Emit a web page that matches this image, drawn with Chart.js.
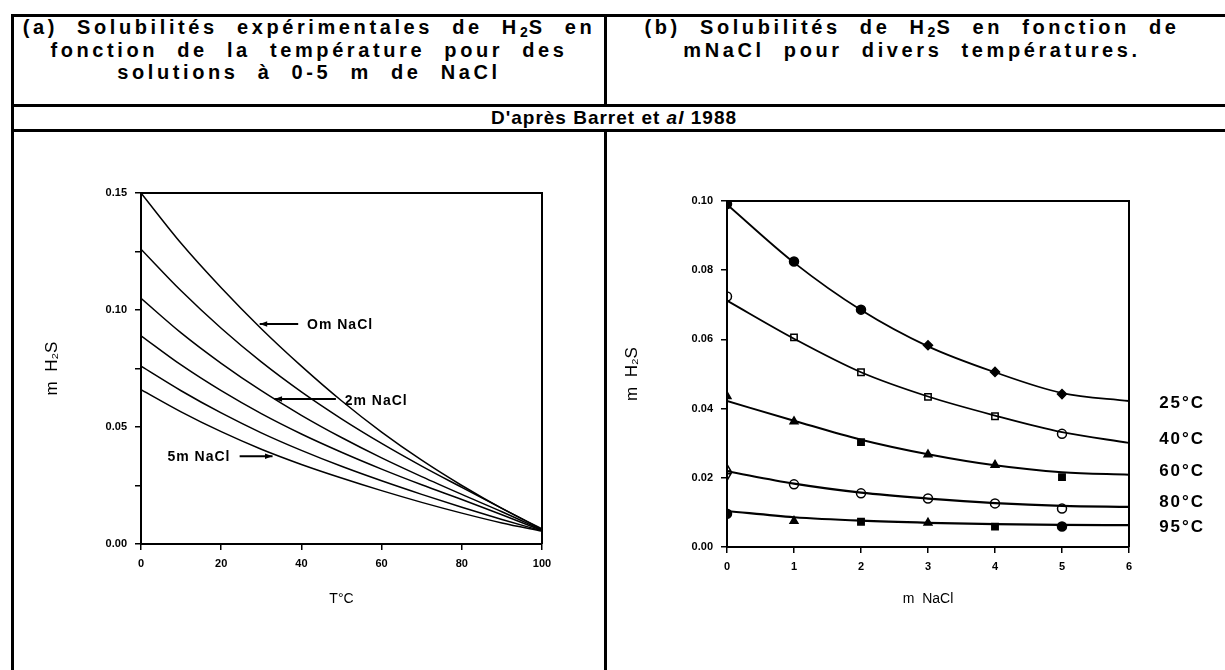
<!DOCTYPE html>
<html>
<head>
<meta charset="utf-8">
<script src="https://cdn.jsdelivr.net/npm/chart.js@4"></script>
<style>
  body { margin: 0; background: #fff; width: 1225px; height: 670px; overflow: hidden; position: relative;
         font-family: "Liberation Sans", Arial, sans-serif; color: #000; }
  .rule { position: absolute; background: #000; }
  .cell { position: absolute; text-align: center; font-size: 20px; font-weight: bold; line-height: 22.5px;
          letter-spacing: 3.6px; word-spacing: 10px; white-space: nowrap; }
  .cell sub { font-size: 14px; vertical-align: -3px; line-height: 0; letter-spacing: 1px; }
  .source { letter-spacing: 1px; word-spacing: 0; font-size: 19px; }
  canvas { position: absolute; }
</style>
</head>
<body>
<!-- table frame -->
<div class="rule" style="left:11px; top:14px; width:1214px; height:3px;"></div>
<div class="rule" style="left:11px; top:104px; width:1214px; height:3px;"></div>
<div class="rule" style="left:11px; top:129px; width:1214px; height:3px;"></div>
<div class="rule" style="left:11px; top:14px; width:3px; height:656px;"></div>
<div class="rule" style="left:604px; top:14px; width:3px; height:92px;"></div>
<div class="rule" style="left:604px; top:130px; width:3px; height:540px;"></div>

<div class="cell" style="left:14px; top:16px; width:590px;">(a) Solubilités expérimentales de H<sub>2</sub>S en<br>fonction de la température pour des<br>solutions à 0-5 m de NaCl</div>
<div class="cell" style="left:607px; top:16px; width:610px;">(b) Solubilités de H<sub>2</sub>S en fonction de<br>mNaCl pour divers températures.</div>
<div class="cell source" style="left:14px; top:106px; width:1200px; line-height:23px;">D'après Barret et <i>al</i> 1988</div>

<canvas id="chartA" width="592" height="539" style="left:13px; top:131px;"></canvas>
<canvas id="chartB" width="616" height="539" style="left:606px; top:131px;"></canvas>

<script>
// (a) m H2S against temperature, one curve per NaCl molality
const tempC = [0, 10, 20, 30, 40, 50, 60, 70, 80, 90, 100];
const h2s0m = [0.150, 0.1285, 0.1095, 0.0920, 0.0760, 0.0612, 0.0478, 0.0358, 0.0250, 0.0152, 0.0065];
const h2s1m = [0.126, 0.1082, 0.0922, 0.0778, 0.0650, 0.0535, 0.0430, 0.0333, 0.0242, 0.0152, 0.0062];
const h2s2m = [0.105, 0.0902, 0.0772, 0.0655, 0.0550, 0.0455, 0.0368, 0.0288, 0.0212, 0.0138, 0.0060];
const h2s3m = [0.089, 0.0765, 0.0655, 0.0557, 0.0470, 0.0392, 0.0320, 0.0253, 0.0190, 0.0125, 0.0058];
const h2s4m = [0.076, 0.0655, 0.0560, 0.0475, 0.0400, 0.0332, 0.0270, 0.0212, 0.0157, 0.0105, 0.0056];
const h2s5m = [0.066, 0.0565, 0.0480, 0.0405, 0.0340, 0.0282, 0.0228, 0.0178, 0.0132, 0.0090, 0.0055];

// (b) m H2S against m NaCl: fitted curves and measured points
const mNaCl = [0, 1, 2, 3, 4, 5, 6];
const fit25 = [0.0990, 0.0822, 0.0685, 0.0580, 0.0505, 0.0445, 0.0422];
const fit40 = [0.0712, 0.0602, 0.0505, 0.0435, 0.0380, 0.0332, 0.0301];
const fit60 = [0.0422, 0.0365, 0.0310, 0.0268, 0.0236, 0.0216, 0.0209];
const fit80 = [0.0219, 0.0183, 0.0157, 0.0140, 0.0127, 0.0119, 0.0116];
const fit95 = [0.0104, 0.0086, 0.0076, 0.0070, 0.0066, 0.0064, 0.0063];

const mNaClMeas = [0, 1, 2, 3, 4, 5];
const meas25 = [0.0991, 0.0825, 0.0686, 0.0583, 0.0506, 0.0442];
const meas40 = [0.0724, 0.0606, 0.0505, 0.0434, 0.0378, 0.0327];
const meas60 = [0.0436, 0.0363, 0.0303, 0.0267, 0.0237, 0.0202];
const mNaClMeas80 = [0, 0, 1, 2, 3, 4, 5];
const meas80 = [0.0226, 0.0205, 0.0181, 0.0155, 0.0140, 0.0126, 0.0111];
const meas95 = [0.0096, 0.0075, 0.0073, 0.0070, 0.0059, 0.0059];

const tempLabels = ['25°C', '40°C', '60°C', '80°C', '95°C'];
const tempLabelY = [0.0416, 0.0310, 0.0219, 0.0128, 0.0056];

const tickFont = { family: 'Liberation Sans', size: 11, weight: 'bold' };
const titleFont = { family: 'Liberation Sans', size: 14 };
const yTitleFont = { family: 'Liberation Sans', size: 17 };

function pairs(xs, ys) {
  return ys.map((y, i) => ({ x: xs[i], y: y }));
}

function curve(xs, ys, width) {
  return {
    type: 'line',
    data: pairs(xs, ys),
    borderColor: '#000',
    borderWidth: width,
    pointRadius: 0,
    fill: false,
    cubicInterpolationMode: 'monotone'
  };
}

function marks(xs, ys, styles, filled, rotation) {
  return {
    type: 'scatter',
    data: pairs(xs, ys),
    pointStyle: styles,
    pointRotation: rotation || 0,
    pointRadius: 4.5,
    pointBorderWidth: 1.5,
    pointBorderColor: '#000',
    pointBackgroundColor: filled ? '#000' : '#fff'
  };
}

// box around the plotting area
const frame = {
  id: 'frame',
  afterDraw(chart) {
    const { ctx, chartArea: a } = chart;
    ctx.save();
    ctx.strokeStyle = '#000';
    ctx.lineWidth = 2;
    ctx.beginPath();
    ctx.moveTo(a.left, a.bottom);
    ctx.lineTo(a.left, a.top);
    ctx.lineTo(a.right, a.top);
    ctx.lineTo(a.right, a.bottom);
    ctx.stroke();
    ctx.restore();
  }
};

function arrow(ctx, x1, y1, x2, y2) {
  const ang = Math.atan2(y2 - y1, x2 - x1);
  ctx.beginPath();
  ctx.moveTo(x1, y1);
  ctx.lineTo(x2, y2);
  ctx.stroke();
  ctx.beginPath();
  ctx.moveTo(x2, y2);
  ctx.lineTo(x2 - 8 * Math.cos(ang - 0.35), y2 - 8 * Math.sin(ang - 0.35));
  ctx.lineTo(x2 - 8 * Math.cos(ang + 0.35), y2 - 8 * Math.sin(ang + 0.35));
  ctx.closePath();
  ctx.fill();
}

// the 0m / 2m / 5m NaCl call-outs
const calloutsA = {
  id: 'calloutsA',
  afterDraw(chart) {
    const { ctx, scales: { x, y } } = chart;
    ctx.save();
    ctx.fillStyle = '#000';
    ctx.strokeStyle = '#000';
    ctx.lineWidth = 2;
    ctx.font = 'bold 14px "Liberation Sans"';
    ctx.letterSpacing = '1px';
    ctx.textBaseline = 'middle';
    arrow(ctx, x.getPixelForValue(39.2), y.getPixelForValue(0.094), x.getPixelForValue(29.6), y.getPixelForValue(0.094));
    ctx.fillText('Om NaCl', x.getPixelForValue(41.4), y.getPixelForValue(0.0934));
    arrow(ctx, x.getPixelForValue(48.6), y.getPixelForValue(0.062), x.getPixelForValue(33.3), y.getPixelForValue(0.062));
    ctx.fillText('2m NaCl', x.getPixelForValue(50.8), y.getPixelForValue(0.061));
    arrow(ctx, x.getPixelForValue(24.6), y.getPixelForValue(0.0375), x.getPixelForValue(32.8), y.getPixelForValue(0.0375));
    ctx.fillText('5m NaCl', x.getPixelForValue(6.6), y.getPixelForValue(0.037));
    ctx.restore();
  }
};

// temperature names to the right of panel (b)
const tempNames = {
  id: 'tempNames',
  afterDraw(chart) {
    const { ctx, scales: { x, y } } = chart;
    ctx.save();
    ctx.fillStyle = '#000';
    ctx.font = 'bold 17px "Liberation Sans"';
    ctx.letterSpacing = '2px';
    ctx.textBaseline = 'middle';
    tempLabels.forEach((t, i) => ctx.fillText(t, x.getPixelForValue(6.45), y.getPixelForValue(tempLabelY[i])));
    ctx.restore();
  }
};

function axes(xMax, xStep, yMax, yStep, yLabel, xTitle, yTitlePad) {
  return {
    x: {
      type: 'linear', min: 0, max: xMax,
      ticks: { stepSize: xStep, color: '#000', font: tickFont, padding: 7 },
      grid: { drawOnChartArea: false, tickLength: 6, color: '#000', lineWidth: 1.5 },
      border: { color: '#000', width: 2 },
      title: { display: true, text: xTitle, color: '#000', font: titleFont, padding: { top: 0, bottom: 62 } },
      afterFit(s) { s.height = 539 - s.chart.chartAreaBottom; }
    },
    y: {
      type: 'linear', min: 0, max: yMax,
      ticks: { stepSize: yStep, color: '#000', font: tickFont, padding: 8, callback: yLabel },
      grid: { drawOnChartArea: false, tickLength: 6, color: '#000', lineWidth: 1.5 },
      border: { color: '#000', width: 2 },
      title: { display: true, text: 'm  H₂S', color: '#000', font: yTitleFont, padding: { top: yTitlePad, bottom: 0 } },
      afterFit(s) { s.width = s.chart.yAxisWidth; }
    }
  };
}

function makeChart(id, datasets, scales, padding, plugins) {
  const canvas = document.getElementById(id);
  return new Chart(canvas.getContext('2d'), {
    data: { datasets: datasets },
    options: {
      responsive: false,
      animation: false,
      devicePixelRatio: 1,
      layout: { padding: padding },
      plugins: { legend: { display: false }, tooltip: { enabled: false } },
      scales: scales
    },
    plugins: plugins
  });
}

// width of the y-axis box and bottom of the plot, per chart
Chart.register({
  id: 'boxSizes',
  beforeInit(chart) {
    const a = chart.canvas.id === 'chartA';
    chart.yAxisWidth = a ? 128 : 121;
    chart.chartAreaBottom = a ? 413 : 416;
  }
});

makeChart('chartA', [
  curve(tempC, h2s0m, 1.5),
  curve(tempC, h2s1m, 1.5),
  curve(tempC, h2s2m, 1.5),
  curve(tempC, h2s3m, 1.5),
  curve(tempC, h2s4m, 1.5),
  curve(tempC, h2s5m, 1.5)
], axes(100, 20, 0.15, 0.025,
  v => (Math.round(v * 1000) % 50 === 0 ? v.toFixed(2) : ''), 'T°C', 29),
{ left: 0, top: 62, right: 63, bottom: 0 }, [frame, calloutsA]);

makeChart('chartB', [
  curve(mNaCl, fit25, 1.8),
  curve(mNaCl, fit40, 1.8),
  curve(mNaCl, fit60, 2),
  curve(mNaCl, fit80, 2.2),
  curve(mNaCl, fit95, 2.2),
  marks(mNaClMeas, meas25, ['circle', 'circle', 'circle', 'rectRot', 'rectRot', 'rectRot'], true),
  marks(mNaClMeas, meas40, ['circle', 'rect', 'rect', 'rect', 'rect', 'circle'], false),
  marks(mNaClMeas, meas60, ['triangle', 'triangle', 'rect', 'triangle', 'triangle', 'rect'], true),
  marks(mNaClMeas80, meas80, ['triangle', 'triangle', 'circle', 'circle', 'circle', 'circle', 'circle'], false, [0, 180, 0, 0, 0, 0, 0]),
  marks(mNaClMeas, meas95, ['circle', 'triangle', 'rect', 'triangle', 'rect', 'circle'], true)
], axes(6, 1, 0.10, 0.02, v => v.toFixed(2), 'm  NaCl', 16),
{ left: 0, top: 70, right: 93, bottom: 0 }, [frame, tempNames]);
</script>
</body>
</html>
